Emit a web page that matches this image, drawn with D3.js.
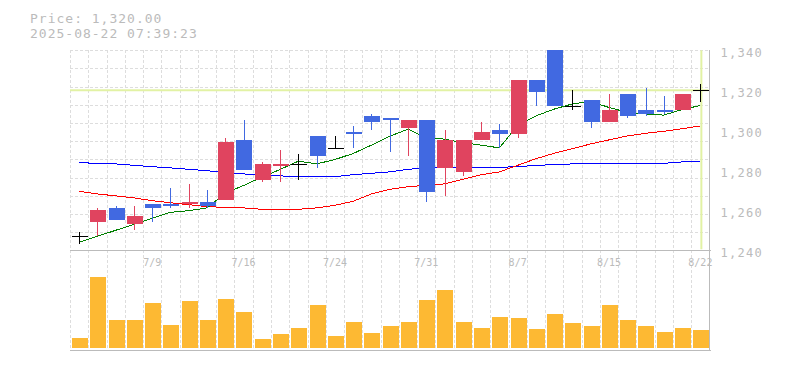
<!DOCTYPE html>
<html>
<head>
<meta charset="utf-8">
<script src="https://cdn.jsdelivr.net/npm/d3@7"></script>
<style>
  body { margin: 0; background: #fff; }
  svg text { font-family: "DejaVu Sans Mono", "Liberation Mono", monospace; fill: #bbb; }
</style>
</head>
<body>
<script>
// daily candles, 7/3 - 8/22
var dates = ['7/3','7/4','7/7','7/8','7/9','7/10','7/11','7/14','7/15','7/16','7/17','7/18','7/22','7/23','7/24','7/25','7/28','7/29','7/30','7/31','8/1','8/4','8/5','8/6','8/7','8/8','8/12','8/13','8/14','8/15','8/18','8/19','8/20','8/21','8/22'];
var opens  = [1247,1254,1261,1253,1263,1263,1263,1264,1265,1295,1275,1282,1283,1297,1291,1299,1307,1306,1301,1305,1281,1279,1295,1300,1298,1325,1340,1312,1315,1304,1318,1310,1310,1310,1320];
var highs  = [1249,1261,1262,1262,1263,1271,1273,1270,1296,1305,1284,1290,1288,1297,1297,1302,1308,1306,1305,1305,1300,1295,1304,1303,1325,1325,1340,1320,1315,1318,1318,1321,1317,1318,1323];
var lows   = [1243,1247,1255,1250,1254,1261,1261,1261,1265,1280,1274,1274,1275,1281,1291,1291,1300,1289,1287,1264,1267,1277,1295,1291,1296,1312,1312,1310,1301,1304,1306,1307,1308,1310,1314];
var closes = [1247,1260,1255,1257,1261,1262,1264,1262,1294,1280,1283,1283,1283,1287,1291,1298,1304,1305,1305,1269,1295,1295,1299,1298,1325,1319,1312,1312,1304,1310,1307,1308,1309,1318,1320];

// moving averages
var ma5  = [1244,1247,1250,1253,1256,1259,1259.8,1261.2,1268.6,1272.4,1276.6,1280.4,1284.6,1283.2,1285.4,1288.4,1292.6,1297,1300.6,1296.2,1295.6,1293.8,1292.6,1291.2,1302.4,1307.2,1310.6,1313.2,1314.4,1311.4,1309,1308.2,1307.6,1310.4,1312.4];
var ma25 = [1269.5,1268.2,1267.2,1266.2,1264.8,1263.8,1262.8,1261.8,1261.5,1261.2,1260.5,1260.5,1260.5,1261.2,1262.5,1264.5,1268.2,1270.5,1271.8,1272.5,1273.2,1275.5,1277.8,1279.2,1282.5,1285.8,1288.5,1290.8,1293.2,1295.2,1297.2,1298.5,1299.5,1300.8,1302.2];
var ma75 = [1283.8,1283.5,1283.2,1282.5,1281.8,1281.2,1280.5,1279.8,1278.8,1278.2,1277.5,1277.2,1276.8,1276.8,1276.8,1277.8,1278.5,1279.2,1280.5,1281.2,1281.2,1281.5,1281.5,1281.5,1281.8,1282.5,1282.8,1283.2,1283.5,1283.5,1283.5,1283.5,1283.5,1284.2,1284.5];

var volumes = [1000,7100,2800,2800,4500,2300,4700,2800,4900,3600,900,1400,2000,4300,1200,2600,1500,2200,2600,4800,5800,2600,2000,3100,3000,1900,3400,2500,2200,4300,2800,2200,1600,2000,1800];

var priceTicks = [1240,1260,1280,1300,1320,1340];
var dateTicks = ['7/9','7/16','7/24','7/31','8/7','8/15','8/22'];
var lastPrice = 1320;
var stamp = '2025-08-22 07:39:23';

var width = 785, height = 370;
var left = 70, right = 709.5;
var pTop = 50.3, pBottom = 250.3;
var vTop = 250, vBase = 348, vBottom = 350;

var svg = d3.select('body').append('svg')
    .attr('width', width)
    .attr('height', height);

var x = d3.scaleBand()
    .domain(dates)
    .range([left, right])
    .padding(0);
var bw = x.bandwidth();
var cx = function (d) { return x(d) + bw / 2; };

var y = d3.scaleLinear().domain([1240, 1340]).range([pBottom, pTop]);
var yv = d3.scaleLinear().domain([0, 9800]).range([vBase, vTop]);

//// grid
var grid = svg.append('g')
    .attr('stroke', '#ddd')
    .attr('stroke-dasharray', '3,2')
    .attr('shape-rendering', 'crispEdges');

d3.range(11).forEach(function (j) {
  var gy = Math.round(pTop + j * (pBottom - pTop) / 11) + 0.5;
  grid.append('line').attr('x1', left).attr('x2', right).attr('y1', gy).attr('y2', gy);
});
d3.range(35).forEach(function (k) {
  var gx = Math.round(left + k * bw) + 0.5;
  grid.append('line').attr('x1', gx).attr('x2', gx).attr('y1', pTop).attr('y2', vBottom);
});

//// frame
var frame = svg.append('g')
    .attr('stroke', '#bbb')
    .attr('shape-rendering', 'crispEdges');
frame.append('line').attr('x1', left).attr('x2', right + 1).attr('y1', 250.5).attr('y2', 250.5);
frame.append('line').attr('x1', left).attr('x2', right + 1).attr('y1', vBottom + 0.5).attr('y2', vBottom + 0.5);
frame.append('line').attr('x1', right).attr('x2', right).attr('y1', pTop).attr('y2', vBottom + 1);

//// current price markers
svg.append('line')
    .attr('x1', left).attr('x2', right - 1)
    .attr('y1', y(lastPrice)).attr('y2', y(lastPrice))
    .attr('stroke', '#e2f2a4').attr('stroke-width', 2);
svg.append('line')
    .attr('x1', cx(dates[dates.length - 1]) + 1).attr('x2', cx(dates[dates.length - 1]) + 1)
    .attr('y1', pTop).attr('y2', pBottom - 1)
    .attr('stroke', '#e2f2a4').attr('stroke-width', 2);

//// moving averages
var maLine = function (vals) {
  return d3.line()
      .x(function (v, i) { return cx(dates[i]); })
      .y(function (v) { return y(v); })(vals);
};
[[ma75, '#0000ff'], [ma25, '#ff0000'], [ma5, '#008000']].forEach(function (m) {
  svg.append('path')
      .attr('d', maLine(m[0]))
      .attr('fill', 'none')
      .attr('stroke', m[1])
      .attr('stroke-width', 1)
      .attr('shape-rendering', 'crispEdges');
});

//// candles
var candles = svg.append('g').attr('shape-rendering', 'crispEdges');
dates.forEach(function (d, i) {
  var o = opens[i], c = closes[i];
  var col = c > o ? '#e0445f' : (c < o ? '#4169e1' : '#000');
  var mid = Math.round(cx(d)) + 0.5;
  var bx = Math.round(x(d) + 2);
  candles.append('line')
      .attr('x1', mid).attr('x2', mid)
      .attr('y1', y(highs[i])).attr('y2', y(lows[i]))
      .attr('stroke', col);
  if (c === o) {
    var ly = Math.round(y(c)) + 0.5;
    candles.append('line')
        .attr('x1', bx).attr('x2', bx + 16)
        .attr('y1', ly).attr('y2', ly)
        .attr('stroke', col);
  } else {
    candles.append('rect')
        .attr('x', bx)
        .attr('y', y(Math.max(o, c)))
        .attr('width', 16)
        .attr('height', Math.max(1, y(Math.min(o, c)) - y(Math.max(o, c))))
        .attr('fill', col);
  }
});

//// volume
svg.append('g')
    .attr('shape-rendering', 'crispEdges')
  .selectAll('rect')
  .data(volumes)
  .enter().append('rect')
      .attr('x', function (v, i) { return Math.round(x(dates[i]) + 2); })
      .attr('y', function (v) { return yv(v); })
      .attr('width', 16)
      .attr('height', function (v) { return vBase - yv(v); })
      .attr('fill', '#fdb933');

//// axes
var yAxis = svg.append('g')
    .attr('transform', 'translate(' + right + ',0)')
    .call(d3.axisRight(y).tickValues(priceTicks).tickSize(0).tickPadding(11).tickFormat(d3.format(',')));
yAxis.select('.domain').remove();
yAxis.selectAll('text')
    .attr('dy', '0.53em')
    .style('font-size', '12px')
    .style('letter-spacing', '1.3px')
    .attr('fill', '#bbb');

var xAxis = svg.append('g')
    .attr('transform', 'translate(0,' + vTop + ')')
    .call(d3.axisBottom(x).tickValues(dateTicks).tickSize(0).tickPadding(9));
xAxis.select('.domain').remove();
xAxis.selectAll('text')
    .style('font-size', '10px')
    .attr('fill', '#bbb');

//// header
svg.append('text')
    .attr('x', 30).attr('y', 22.7)
    .style('font-size', '13px')
    .style('letter-spacing', '1px')
    .text('Price: ' + d3.format(',.2f')(lastPrice));
svg.append('text')
    .attr('x', 30).attr('y', 37.7)
    .style('font-size', '13px')
    .style('letter-spacing', '1px')
    .text(stamp);
</script>
</body>
</html>
